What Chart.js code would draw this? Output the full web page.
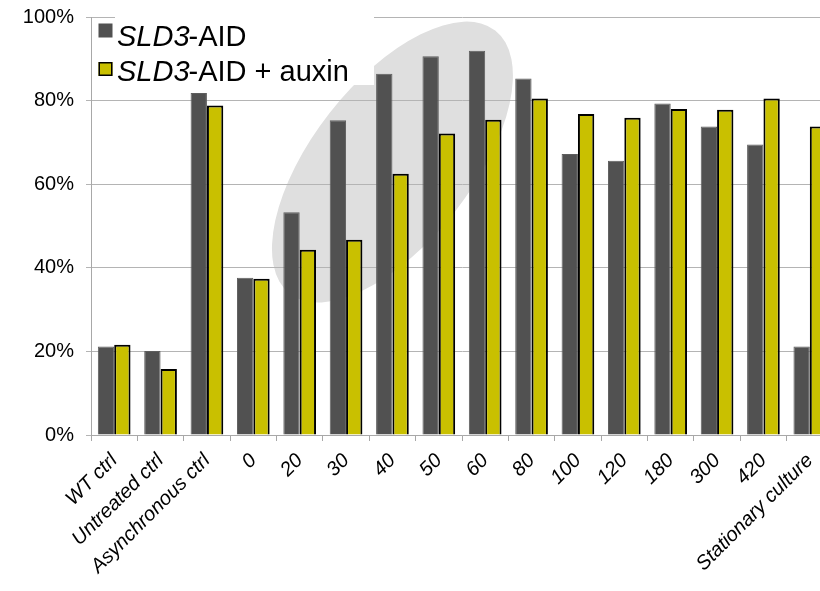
<!DOCTYPE html>
<html>
<head>
<meta charset="utf-8">
<title>SLD3-AID</title>
<script src="https://cdn.jsdelivr.net/npm/chart.js@4.4.1/dist/chart.umd.min.js"></script>
<style>
  html, body { margin: 0; padding: 0; background: #fff; overflow: hidden; }
  #wrap { position: absolute; left: 0; top: 0; width: 840px; height: 591px; }
</style>
</head>
<body>
<div id="wrap"><canvas id="chart" width="840" height="591"></canvas></div>
<script>
// categories (time after release, min) and the two series, in %
const categories = ["WT ctrl", "Untreated ctrl", "Asynchronous ctrl", "0", "20", "30", "40", "50", "60", "80", "100", "120", "180", "300", "420", "Stationary culture"];
const sld3Aid = [21.2, 20.1, 81.8, 37.6, 53.3, 75.3, 86.4, 90.6, 91.9, 85.3, 67.2, 65.6, 79.3, 73.8, 69.5, 21.2];
const sld3AidAuxin = [21.6, 15.8, 78.8, 37.4, 44.3, 46.7, 62.5, 72.1, 75.4, 80.5, 76.8, 75.9, 78.0, 77.8, 80.5, 73.8];
const yTicks = [0, 20, 40, 60, 80, 100];

const FONT = "'Liberation Sans', Arial, Helvetica, sans-serif";

// grey ellipse behind the 20-60 min bars
const ellipsePlugin = {
  id: "ellipse",
  beforeDraw(chart) {
    const { ctx, scales: { x, y } } = chart;
    const cw = x.getPixelForValue(1) - x.getPixelForValue(0);
    ctx.save();
    ctx.fillStyle = "#dfdfdf";
    ctx.beginPath();
    ctx.ellipse(x.getPixelForValue(6), y.getPixelForValue(65.3), cw * 3.6, cw * 1.72, -52 * Math.PI / 180, 0, Math.PI * 2);
    ctx.fill();
    ctx.restore();
  },
  // white legend backing hides gridline and top of the ellipse
  beforeDatasetsDraw(chart) {
    const ctx = chart.ctx;
    ctx.save();
    ctx.fillStyle = "#fff";
    ctx.fillRect(115, 8, 259, 77);
    ctx.restore();
  }
};

// legend drawn by hand: italic gene name + plain suffix
const legendPlugin = {
  id: "customLegend",
  afterDraw(chart) {
    const ctx = chart.ctx;
    const items = [
      { fill: "#515151", stroke: null, rest: "-AID", base: 46, box: 23.5 },
      { fill: "#c9c000", stroke: "#000", rest: "-AID + auxin", base: 80.5, box: 62 }
    ];
    ctx.save();
    items.forEach(it => {
      ctx.fillStyle = it.fill;
      ctx.fillRect(98.5, it.box, 14, 14);
      if (it.stroke) {
        ctx.strokeStyle = it.stroke;
        ctx.lineWidth = 1.5;
        ctx.strokeRect(99.25, it.box + 0.75, 12.5, 12.5);
      }
      ctx.fillStyle = "#000";
      ctx.textBaseline = "alphabetic";
      ctx.textAlign = "left";
      ctx.font = "italic 29px " + FONT;
      ctx.fillText("SLD3", 117, it.base);
      const w = ctx.measureText("SLD3").width;
      ctx.font = "29px " + FONT;
      ctx.fillText(it.rest, 116 + w, it.base);
    });
    ctx.restore();
  }
};

new Chart(document.getElementById("chart"), {
  type: "bar",
  data: {
    labels: categories,
    datasets: [
      {
        label: "SLD3-AID",
        data: sld3Aid,
        backgroundColor: "#515151",
        borderColor: "#5e5e5e",
        borderWidth: 1,
        categoryPercentage: 0.705,
        barPercentage: 1.0
      },
      {
        label: "SLD3-AID + auxin",
        data: sld3AidAuxin,
        backgroundColor: "#c9c000",
        borderColor: "#000",
        borderWidth: 2,
        categoryPercentage: 0.705,
        barPercentage: 1.0
      }
    ]
  },
  options: {
    responsive: false,
    animation: false,
    layout: { padding: { left: 0, right: 7, top: 17, bottom: 0 } },
    plugins: {
      legend: { display: false },
      tooltip: { enabled: false }
    },
    scales: {
      x: {
        grid: { drawOnChartArea: false, drawTicks: true, tickLength: 6, color: "#a8a8a8", offset: true },
        border: { color: "#a8a8a8", width: 1 },
        ticks: {
          color: "#000",
          font: { family: FONT, size: 20, style: "italic" },
          maxRotation: 45,
          minRotation: 45,
          autoSkip: false,
          padding: 8
        },
        afterFit(scale) { scale.height = 156; scale.paddingLeft = 0; scale.paddingRight = 0; }
      },
      y: {
        min: 0,
        max: 100,
        afterBuildTicks(scale) { scale.ticks = yTicks.map(v => ({ value: v })); },
        grid: { color: "#b4b4b4", tickLength: 5, drawTicks: true },
        border: { color: "#a8a8a8", width: 1 },
        ticks: {
          color: "#000",
          font: { family: FONT, size: 20 },
          padding: 12,
          callback: v => v + "%"
        },
        afterFit(scale) { scale.width = 91; scale.paddingTop = 0; scale.paddingBottom = 0; }
      }
    }
  },
  plugins: [ellipsePlugin, legendPlugin]
});
</script>
</body>
</html>
